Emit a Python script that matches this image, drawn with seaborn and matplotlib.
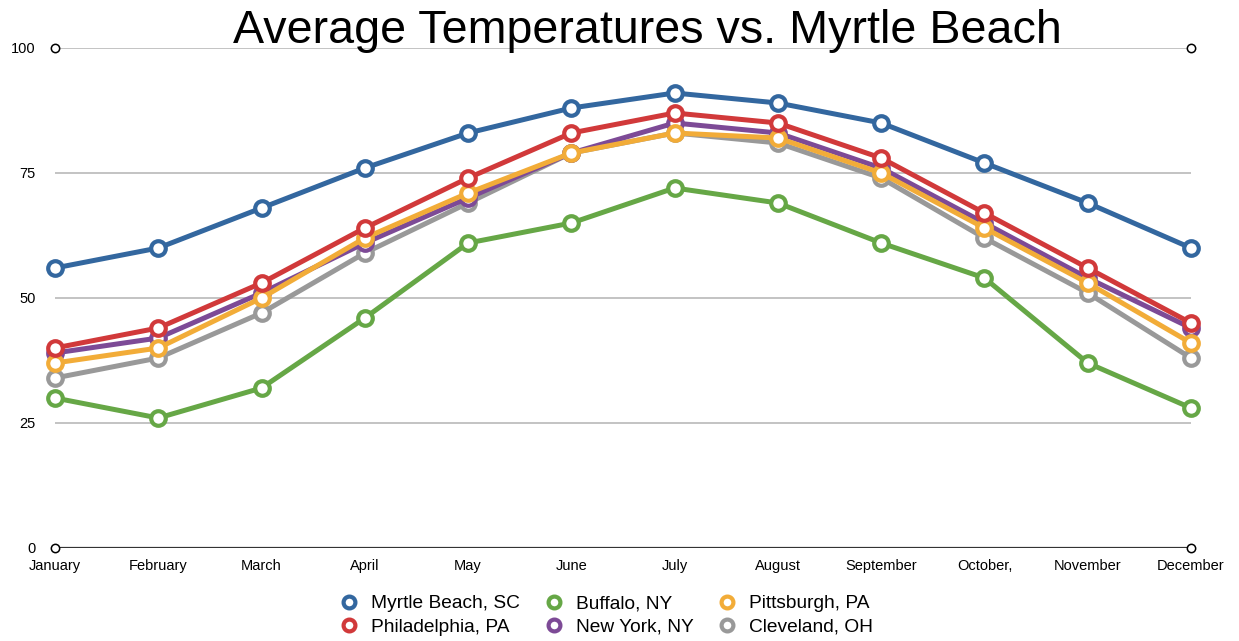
import numpy as np
import pandas as pd
import matplotlib.pyplot as plt
from matplotlib.lines import Line2D
import seaborn as sns

months = ["January", "February", "March", "April", "May", "June", "July",
          "August", "September", "October,", "November", "December"]

myrtle_beach = [56, 60, 68, 76, 83, 88, 91, 89, 85, 77, 69, 60]
philadelphia = [40, 44, 53, 64, 74, 83, 87, 85, 78, 67, 56, 45]
buffalo = [30, 26, 32, 46, 61, 65, 72, 69, 61, 54, 37, 28]
new_york = [39, 42, 51, 61, 70, 79, 85, 83, 76, 65, 54, 44]
pittsburgh = [37, 40, 50, 62, 71, 79, 83, 82, 75, 64, 53, 41]
cleveland = [34, 38, 47, 59, 69, 79, 83, 81, 74, 62, 51, 38]

cities = ["Myrtle Beach, SC", "Philadelphia, PA", "Buffalo, NY",
          "New York, NY", "Pittsburgh, PA", "Cleveland, OH"]
values = [myrtle_beach, philadelphia, buffalo, new_york, pittsburgh, cleveland]
colors = ["#33679f", "#d1393a", "#66a746", "#7d4a96", "#f2ac38", "#999999"]
# drawing order (bottom to top)
draw_order = ["Cleveland, OH", "Buffalo, NY", "New York, NY", "Pittsburgh, PA",
              "Philadelphia, PA", "Myrtle Beach, SC"]

sns.set_theme(style="white")
plt.rcParams["font.family"] = ["Liberation Sans", "DejaVu Sans"]
plt.rcParams["text.color"] = "black"
plt.rcParams["xtick.color"] = "black"
plt.rcParams["ytick.color"] = "black"

fig = plt.figure(figsize=(12.39, 6.41), dpi=100)
ax = fig.add_axes([0.04439, 0.14509, 0.91687, 0.78003])

x = np.arange(len(months))
for z, city in enumerate(draw_order):
    i = cities.index(city)
    df = pd.DataFrame({"month": x, "temp": values[i]})
    sns.lineplot(data=df, x="month", y="temp", ax=ax, color=colors[i],
                 linewidth=3.6, marker="o", markersize=10.5,
                 markerfacecolor="white", markeredgecolor=colors[i],
                 markeredgewidth=3.0, sort=False, legend=False,
                 zorder=5 + z, clip_on=False)

# grid lines
for yv in [25, 50, 75, 100]:
    ax.axhline(yv, color="#b3b3b3", lw=1.1, zorder=1)
ax.axhline(0, color="#333333", lw=1.6, zorder=2)
for yv in [0, 100]:
    ax.plot([x[0], x[-1]], [yv, yv], "o", mfc="white", mec="black",
            ms=6, mew=1.1, clip_on=False, zorder=3)

ax.set_xlim(x[0], x[-1])
ax.set_ylim(0, 100)
ax.set_xticks(x)
ax.set_xticklabels(months, fontsize=10.5)
ax.set_yticks([0, 25, 50, 75, 100])
ax.set_yticklabels(["0", "25", "50", "75", "100"], fontsize=10.5)
ax.tick_params(axis="y", length=0, pad=14)
ax.tick_params(axis="x", length=0, pad=8)
ax.set_xlabel("")
ax.set_ylabel("")
for s in ax.spines.values():
    s.set_visible(False)

fig.text(647 / 1239, 1 - 43 / 641, "Average Temperatures vs. Myrtle Beach",
         ha="center", va="baseline", fontsize=33.6, color="black")

handles = [Line2D([], [], linestyle="none", marker="o", markersize=8.5,
                  markerfacecolor="white", markeredgecolor=c,
                  markeredgewidth=3.0) for c in colors]
fig.legend(handles, cities, loc="center", bbox_to_anchor=(607 / 1239, 0.04),
           ncol=3, frameon=False, fontsize=13.8, handlelength=0.9,
           handletextpad=0.7, columnspacing=1.3, labelspacing=0.3)

fig.savefig("out.png", dpi=100)
